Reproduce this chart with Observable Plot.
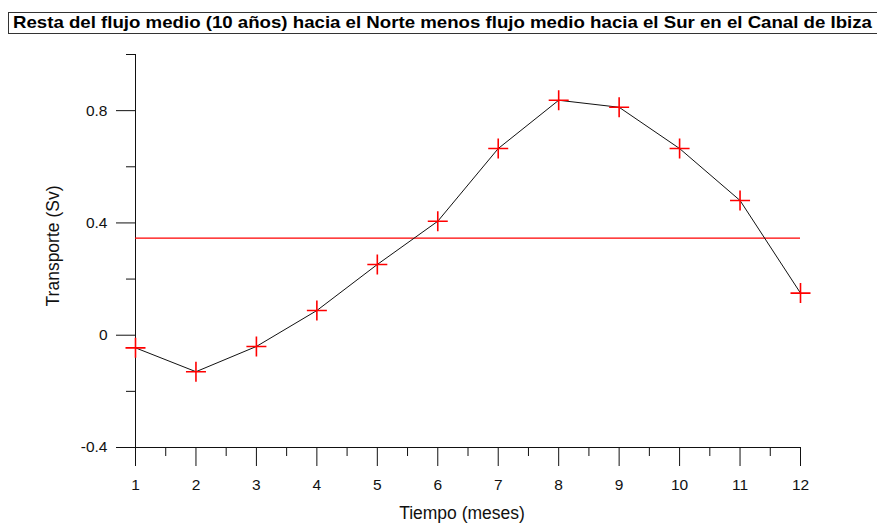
<!DOCTYPE html>
<html><head><meta charset="utf-8">
<script src="https://cdn.jsdelivr.net/npm/d3@7"></script>
<script src="https://cdn.jsdelivr.net/npm/@observablehq/plot@0.6"></script>
<style>
body{margin:0;background:#fff;font-family:"Liberation Sans",Arial,sans-serif;}
#wrap{position:relative;width:877px;height:523px;}
#wrap svg{position:absolute;left:0;top:0;}
#title{position:absolute;z-index:2;left:8px;top:12px;width:869px;height:22px;box-sizing:border-box;border:1px solid #333;border-right:none;background:#fff;font-weight:bold;font-size:17px;line-height:20px;padding-left:4px;white-space:nowrap;overflow:hidden;color:#000;}
#title span{display:inline-block;transform-origin:0 50%;}
</style></head>
<body><div id="wrap"><div id="title"><span>Resta del flujo medio (10 años) hacia el Norte menos flujo medio hacia el Sur en el Canal de Ibiza</span></div></div>
<script>
const months = [1,2,3,4,5,6,7,8,9,10,11,12];
const transport = [-0.045,-0.130,-0.040,0.088,0.252,0.406,0.665,0.837,0.812,0.665,0.480,0.150];
const meanValue = 0.346;
const xTicks = [1,2,3,4,5,6,7,8,9,10,11,12];
const xMinor = [1.5,2.5,3.5,4.5,5.5,6.5,7.5,8.5,9.5,10.5,11.5];
const yTicks = [-0.4,0,0.4,0.8];
const yMinor = [-0.2,0.2,0.6,1.0];
const data = months.map((m,i)=>({m, v: transport[i]}));
const plusSym = {draw(ctx, size){const r=Math.sqrt(size/Math.PI);ctx.moveTo(-r,0);ctx.lineTo(r,0);ctx.moveTo(0,-r);ctx.lineTo(0,r);}};
const chart = Plot.plot({
  width: 877, height: 523,
  marginLeft: 135, marginRight: 77, marginTop: 54, marginBottom: 76,
  style: {fontFamily: '"Liberation Sans", Arial, sans-serif', fontSize: "15.5px", color: "#111", background: "#fff"},
  x: {domain: [1,12]},
  y: {domain: [-0.4,1.0]},
  marks: [
    Plot.axisX({ticks: xTicks, tickSize: 19, tickPadding: 12, tickFormat: d=>String(d), label: null, fontSize: 15.5}),
    Plot.axisX({ticks: xMinor, tickSize: 9, text: null, label: null}),
    Plot.axisY({ticks: yTicks, tickSize: 19, tickPadding: 9, tickFormat: d=>String(d), label: null, fontSize: 15.5}),
    Plot.axisY({ticks: yMinor, tickSize: 9, text: null, label: null}),
    Plot.ruleX([1], {stroke: "#111"}),
    Plot.ruleY([-0.4], {stroke: "#111"}),
    Plot.ruleY([meanValue], {stroke: "#ff0000", strokeWidth: 1.2}),
    Plot.line(data, {x: "m", y: "v", stroke: "#111", strokeWidth: 1}),
    Plot.dot(data, {x: "m", y: "v", symbol: plusSym, r: 10, stroke: "red", strokeWidth: 1.6, fill: "none"}),
    Plot.text(["Tiempo (meses)"], {frameAnchor: "bottom", dx: -6, dy: 71, fontSize: 17.5, fill: "#111"}),
    Plot.text(["Transporte (Sv)"], {frameAnchor: "left", textAnchor: "middle", lineAnchor: "middle", dx: -82, dy: -5, rotate: -90, fontSize: 17.5, fill: "#111"})
  ]
});
document.getElementById("wrap").appendChild(chart);
d3.select(chart).selectAll("text").filter(function(){ return /^[-−0-9.]+$/.test(this.textContent.trim()); }).style("font-size", "15.5px");
const sp = document.querySelector("#title span");
const w = sp.getBoundingClientRect().width;
sp.style.transform = `scaleX(${859 / w})`;
</script></body></html>
